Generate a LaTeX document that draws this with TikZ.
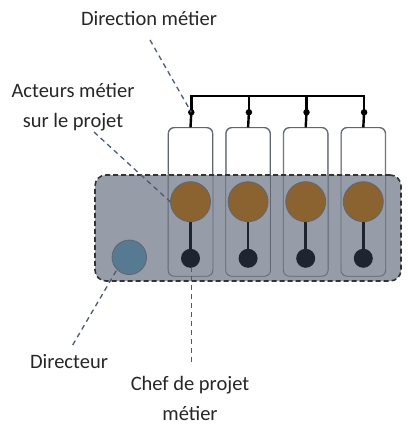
\documentclass[tikz,border=0pt]{standalone}
\usepackage{fontspec}
\setmainfont{Carlito}
\definecolor{boxgrey}{HTML}{969DA8}
\definecolor{colline}{HTML}{5F6670}
\definecolor{brownc}{HTML}{8B6330}
\definecolor{darkc}{HTML}{1E2430}
\definecolor{bluec}{HTML}{557A92}
\definecolor{leader}{HTML}{4A5A75}
\begin{document}
\begin{tikzpicture}[x=1pt,y=-1pt,
  col/.style={draw=colline, line width=0.8pt, rounded corners=6pt, minimum width=44pt, minimum height=148pt, inner sep=0pt},
  grp/.style={minimum width=306pt, minimum height=106pt, rounded corners=11pt, inner sep=0pt},
  actor/.style={circle, draw=colline, line width=0.8pt, fill=brownc, minimum size=40pt, inner sep=0pt},
  chef/.style={circle, fill=darkc, minimum size=19pt, inner sep=0pt},
  busdot/.style={circle, fill=black, minimum size=6.5pt, inner sep=0pt},
  bus/.style={line width=2.4pt, black},
  stem/.style={line width=2.6pt, darkc},
  lead/.style={leader, line width=1.3pt, dash pattern=on 5pt off 4pt},
  lbl/.style={font=\fontsize{20.5}{30}\selectfont, text=black!85, align=center, inner sep=0pt}
]
\useasboundingbox (0,0) rectangle (411,428);
% columns (white part)
\foreach \i/\x in {1/190.5,2/248.1,3/305.7,4/363.3}{
  \node[col, fill=white] (col\i) at (\x,201.8) {};
}
% group box fill
\node[grp, fill=boxgrey] (grp) at (248,228) {};
% column outlines over the box
\foreach \i in {1,2,3,4}{
  \draw[colline, line width=0.8pt, rounded corners=6pt] (col\i.south west) rectangle (col\i.north east);
}
% group dashed border
\node[grp, draw=black!80, line width=1.6pt, dash pattern=on 5pt off 3pt] at (248,228) {};
% actors and chefs
\foreach \i/\x in {1/190.5,2/248.1,3/305.7,4/363.3}{
  \node[actor] (a\i) at (\x,201.7) {};
  \node[chef] (c\i) at (\x,258.3) {};
  \draw[stem] (a\i) -- (c\i);
  \node[busdot] (d\i) at (\x+0.8,112.3) {};
  \draw[bus] (d\i.center) -- (col\i.north);
}
\coordinate (b1) at (191.3,95.7);
\coordinate (b4) at (364.1,95.7);
\draw[bus] (d1.center) -- (b1) -- (b4) -- (d4.center);
\draw[bus] (d2.center) -- (d2.center |- b1);
\draw[bus] (d3.center) -- (d3.center |- b1);
% directeur
\node[circle, draw=colline, line width=0.8pt, fill=bluec, minimum size=34.5pt, inner sep=0pt] (dir) at (129.3,257.3) {};
% labels
\node[lbl] (ldir) at (149,18) {Direction métier};
\node[lbl] (lact) at (73,107.5) {Acteurs métier\\sur le projet};
\node[lbl] (ldirecteur) at (69,362) {Directeur};
\node[lbl] (lchef) at (190,398.5) {Chef de projet\\métier};
% leaders
\coordinate (p1) at (150,40);
\draw[lead] (p1) -- (d1.center);
\coordinate (p2) at (94,132);
\draw[lead] (p2) -- (a1.west);
\coordinate (p3) at (72.7,345);
\draw[lead] (p3) -- (dir.south west);
\coordinate (p4) at (191.7,361.7);
\draw[lead] (p4) -- (c1.south -| p4);
\end{tikzpicture}
\end{document}
